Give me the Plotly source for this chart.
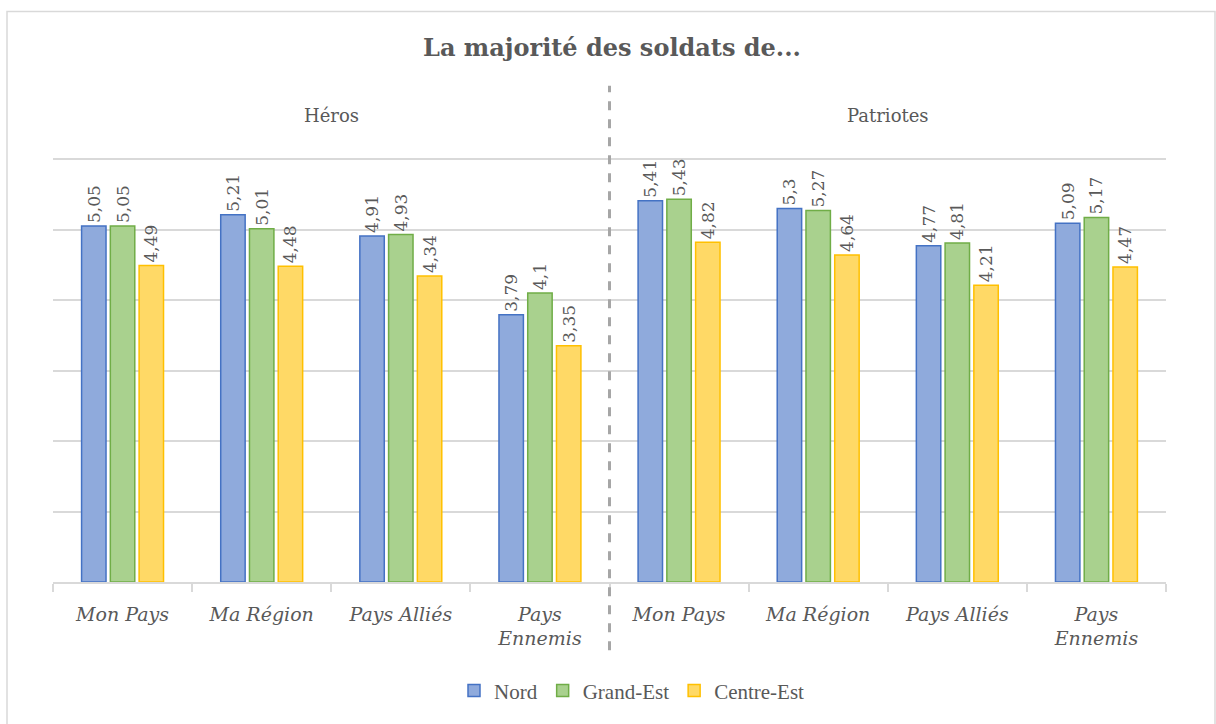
import plotly.graph_objects as go

categories = ["Mon Pays", "Ma Région", "Pays Alliés", "Pays<br>Ennemis",
              "Mon Pays", "Ma Région", "Pays Alliés", "Pays<br>Ennemis"]
groups = ["Héros", "Patriotes"]
nord = [5.05, 5.21, 4.91, 3.79, 5.41, 5.30, 4.77, 5.09]
grand_est = [5.05, 5.01, 4.93, 4.10, 5.43, 5.27, 4.81, 5.17]
centre_est = [4.49, 4.48, 4.34, 3.35, 4.82, 4.64, 4.21, 4.47]

series = [
    ("Nord", nord, "#8FAADC", "#4472C4"),
    ("Grand-Est", grand_est, "#A9D18E", "#70AD47"),
    ("Centre-Est", centre_est, "#FFD966", "#FFC000"),
]

FONT = "DejaVu Serif"
GREY = "#595959"
xs = list(range(len(categories)))

W, H = 1216, 724
YMAX = 6.1
PL, PR, PB = 53, 1166, 586          # plot edges in page px
PX_PER_UNIT = (585 - 158) / 6.0
PT = PB - PX_PER_UNIT * YMAX
ML, MR, MT, MB = PL, W - PR, PT, H - PB
PW, PH = PR - PL, PB - PT


def px(xp):
    return (xp - PL) / PW


def py(yp):
    return (PB - yp) / PH


fig = go.Figure()
for name, vals, fill, line in series:
    fig.add_trace(go.Bar(
        x=xs, y=vals, name=name,
        marker=dict(color=fill, line=dict(color=line, width=1.5)),
        text=[f"{v:g}".replace(".", ",") for v in vals],
        textposition="outside", textangle=-90, constraintext="none",
        textfont=dict(family=FONT, size=17, color=GREY),
        cliponaxis=False,
    ))

fig.update_layout(
    width=W, height=H,
    paper_bgcolor="white", plot_bgcolor="white",
    margin=dict(l=ML, r=MR, t=MT, b=MB, pad=0),
    barmode="group", bargap=0.38, bargroupgap=0.15,
    font=dict(family=FONT, color=GREY),
    title=dict(text="<b>La majorité des soldats de...</b>",
               x=px(612), xref="paper", y=1 - 48 / H, yref="container",
               yanchor="middle", xanchor="center",
               font=dict(family=FONT, size=24, color=GREY)),
    legend=dict(orientation="h", x=px(632), xanchor="center", y=py(696), yanchor="middle",
                font=dict(family="Liberation Serif", size=21, color=GREY), traceorder="normal"),
    xaxis=dict(
        range=[-0.5, len(categories) - 0.5],
        tickvals=xs, ticktext=categories,
        ticks="outside", ticklen=14, tickcolor="rgba(0,0,0,0)",
        tickfont=dict(family=FONT, size=19, color=GREY, style="italic"),
        showline=True, linecolor="#d9d9d9", linewidth=1.5,
        showgrid=False, zeroline=False,
        minor=dict(tickmode="array", tickvals=[i - 0.5 for i in range(len(categories) + 1)],
                   ticks="outside", ticklen=8, tickcolor="#d9d9d9", tickwidth=1.5, showgrid=False),
    ),
    yaxis=dict(
        range=[0, YMAX], tickvals=[1, 2, 3, 4, 5, 6], showticklabels=False,
        showgrid=True, gridcolor="#d9d9d9", gridwidth=1.5,
        zeroline=False, showline=False,
    ),
    showlegend=True,
)

# group labels
for gi, g in enumerate(groups):
    fig.add_annotation(text=g, x=gi * 4 + 1.5, xref="x", y=py(115), yref="paper",
                       yanchor="middle", showarrow=False,
                       font=dict(family=FONT, size=18, color=GREY))

# dashed separator between groups
fig.add_shape(type="line", x0=3.5, x1=3.5, xref="x", y0=py(655), y1=py(85), yref="paper",
              line=dict(color="#a6a6a6", width=3, dash="dash"))

# chart border
fig.add_shape(type="rect", xref="paper", yref="paper",
              x0=px(7), x1=px(1215), y0=py(740), y1=py(10),
              line=dict(color="#d9d9d9", width=1.5))

fig.write_html("out.html", config={"displayModeBar": False},
               post_script="document.body.style.margin='0';document.body.style.overflow='hidden';")
